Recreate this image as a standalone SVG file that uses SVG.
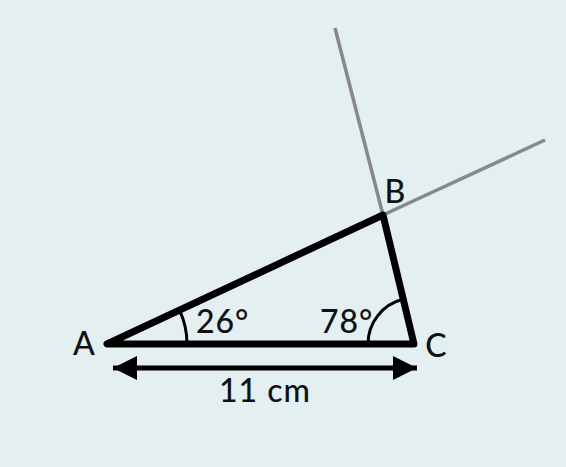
<svg xmlns="http://www.w3.org/2000/svg" width="566" height="467" viewBox="0 0 566 467">
<defs>
<style>
.lbl{font-family:Lato,"Open Sans","DejaVu Sans",sans-serif;font-size:32px;fill:#111;font-weight:500;}
.ext{stroke:#888;stroke-width:3.5;fill:none;stroke-linecap:butt;}
.side{stroke:#000;stroke-width:7;fill:none;stroke-linejoin:round;stroke-linecap:round;}
.arc{stroke:#000;stroke-width:3;fill:none;}
</style>
<marker id="ah" viewBox="0 0 10 10" refX="10" refY="5" markerUnits="userSpaceOnUse" markerWidth="32" markerHeight="24" orient="auto-start-reverse">
<path d="M0,0 L10,5 L0,10 Z" fill="#000"/>
</marker>
</defs>
<rect width="566" height="467" fill="#e4eff1"/>
<g id="connectors">
<line class="ext" x1="383" y1="215" x2="335" y2="28"/>
<line class="ext" x1="383" y1="215" x2="545" y2="140"/>
<line x1="113" y1="368" x2="417" y2="368" stroke="#000" stroke-width="5" marker-start="url(#ah)" marker-end="url(#ah)"/>
</g>
<g id="triangle">
<path class="side" d="M107,344 L414,344 L383,215 Z"/>
</g>
<g id="angleA">
<path class="arc" d="M187,344 A80,80 0 0 0 179.5,310.2"/>
<text class="lbl" x="196" y="333" letter-spacing="1">26°</text>
</g>
<g id="angleC">
<path class="arc" d="M368,344 A46,46 0 0 1 403,299.3"/>
<text class="lbl" x="320" y="333" letter-spacing="1">78°</text>
</g>
<g id="A"><text class="lbl" x="84" y="355" text-anchor="middle">A</text></g>
<g id="B"><text class="lbl" x="395" y="203" text-anchor="middle">B</text></g>
<g id="C"><text class="lbl" x="436" y="357" text-anchor="middle">C</text></g>
<g id="length"><text class="lbl" x="265" y="402" text-anchor="middle" letter-spacing="1">11 cm</text></g>
</svg>
